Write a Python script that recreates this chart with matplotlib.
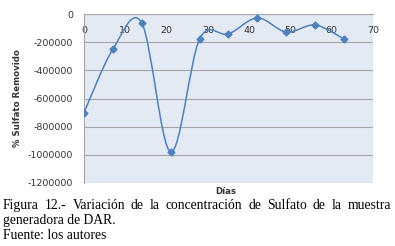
import numpy as np
import matplotlib
matplotlib.use("Agg")
import matplotlib.pyplot as plt
from matplotlib.path import Path
from matplotlib.patches import PathPatch

plt.rcParams["axes.unicode_minus"] = False

dias = [0, 7, 14, 21, 28, 35, 42, 49, 56, 63]
sulfato = [-700000, -250000, -64000, -980000, -178000, -142000, -28000, -128000, -78000, -178000]
xticks = [0, 10, 20, 30, 40, 50, 60, 70]
yticks = [0, -200000, -400000, -600000, -800000, -1000000, -1200000]

color = "#4F81BD"
fig = plt.figure(figsize=(3.95, 2.46), dpi=100)
ax = fig.add_axes([84/395, 1-183/246, (373-84)/395, (183-14)/246])
ax.set_facecolor("#E4EAF4")
ax.set_xlim(0, 70)
ax.set_ylim(-1200000, 0)

# Excel-like smooth curve (Catmull-Rom -> Bezier)
pts = np.column_stack([dias, sulfato]).astype(float)
verts = [tuple(pts[0])]
codes = [Path.MOVETO]
n = len(pts)
for i in range(n - 1):
    p0 = pts[i - 1] if i > 0 else pts[i]
    p1 = pts[i]
    p2 = pts[i + 1]
    p3 = pts[i + 2] if i + 2 < n else pts[i + 1]
    c1 = p1 + (p2 - p0) / 6
    c2 = p2 - (p3 - p1) / 6
    verts += [tuple(c1), tuple(c2), tuple(p2)]
    codes += [Path.CURVE4] * 3
ax.add_patch(PathPatch(Path(verts, codes), fill=False, edgecolor=color, lw=1.1, zorder=3))
ax.plot(dias, sulfato, ls="none", marker="D", ms=3.5, color=color, zorder=4)

ax.set_yticks(yticks)
ax.set_yticklabels([str(v) for v in yticks], fontsize=6.8, color="#333333")
ax.set_xticks(xticks)
ax.set_xticklabels([str(v) for v in xticks], fontsize=6.8, color="#333333")
ax.xaxis.set_ticks_position("top")
ax.tick_params(axis="x", length=0, pad=-15, labeltop=True, labelbottom=False)
ax.tick_params(axis="y", length=0, pad=8)
ax.grid(axis="y", color="#A6A6A6", lw=0.8)
ax.set_axisbelow(True)
for s in ["right", "bottom"]:
    ax.spines[s].set_visible(False)
ax.spines["left"].set_color("#A6A6A6")
ax.spines["top"].set_color("#A6A6A6")

fig.text(18/395, 1-98/246, "% Sulfato Removido", rotation=90, fontsize=6.2,
         fontweight="bold", color="#333333", ha="center", va="center")
fig.text(226/395, 1-191/246, "Días", fontsize=6.2, fontweight="bold",
         color="#333333", ha="center", va="center")

# caption
serif = "Liberation Serif"
fs = 9.8
line1 = "Figura 12.- Variación de la concentración de Sulfato de la muestra".split(" ")
fig.canvas.draw()
r = fig.canvas.get_renderer()
x0, x1 = 3, 391
widths = []
tmp = []
for w in line1:
    t = fig.text(0, 0, w, fontsize=fs, family=serif)
    widths.append(t.get_window_extent(r).width)
    tmp.append(t)
for t in tmp:
    t.remove()
gap = (x1 - x0 - sum(widths)) / (len(line1) - 1)
x = x0
for w, wd in zip(line1, widths):
    fig.text(x/395, 1-209/246, w, fontsize=fs, family=serif, va="baseline")
    x += wd + gap
fig.text(x0/395, 1-224/246, "generadora de DAR.", fontsize=fs, family=serif, va="baseline")
fig.text(x0/395, 1-239/246, "Fuente: los autores", fontsize=fs, family=serif, va="baseline")

fig.savefig("out.png", dpi=100)
